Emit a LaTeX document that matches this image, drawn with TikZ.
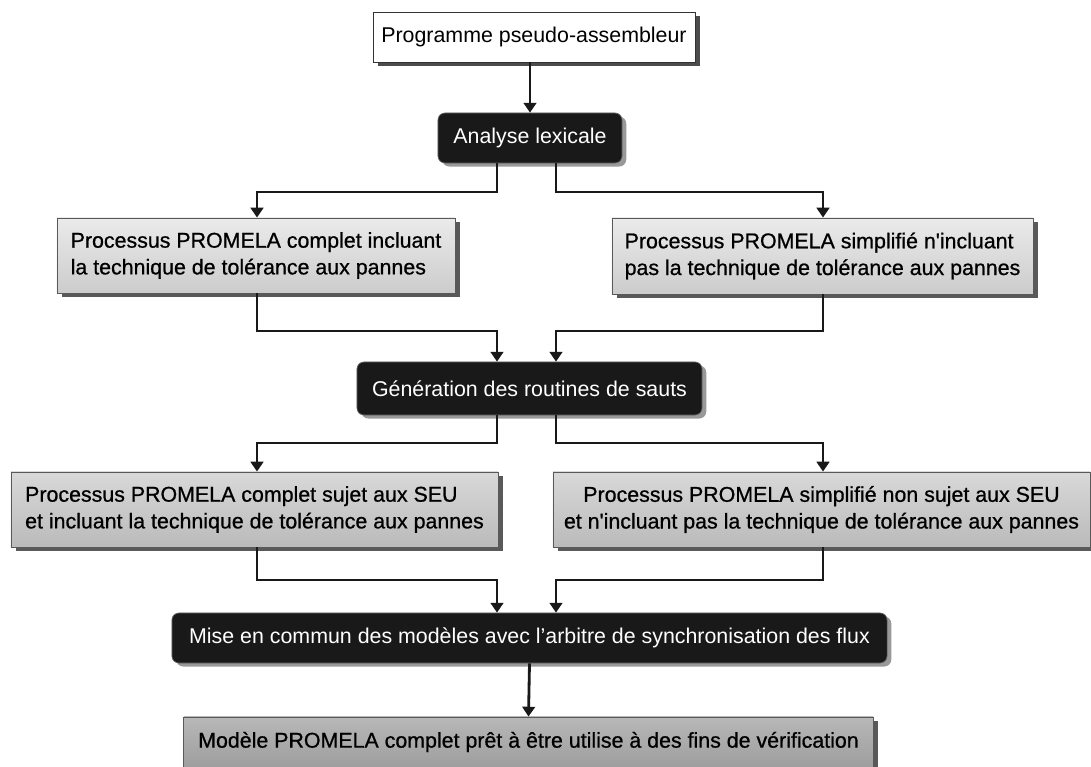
\documentclass[tikz,border=0pt]{standalone}
\usepackage{fontspec}
\setmainfont{Liberation Sans}
\newfontfamily\heavyfont[FakeBold=0.8]{Liberation Sans}
\usetikzlibrary{arrows.meta, positioning, shadows}

\tikzset{
  txt/.style={font=\fontsize{15.2pt}{19pt}\selectfont, inner sep=0pt},
  whitebox/.style={txt, draw=black!80, line width=0.6pt, fill=white,
    drop shadow={shadow xshift=3.5pt, shadow yshift=-2.5pt, fill=black!70, opacity=1}},
  darkbox/.style={txt, text=white, fill=black!90, draw=black!60, line width=0.5pt, rounded corners=5pt,
    drop shadow={shadow xshift=3pt, shadow yshift=-2.5pt, fill=black!40, opacity=1}},
  graybox/.style={txt, font=\fontsize{15.2pt}{19pt}\selectfont\heavyfont, draw=black!65, line width=0.6pt,
    top color=black!8, bottom color=black!20,
    drop shadow={shadow xshift=3.5pt, shadow yshift=-2.5pt, fill=black!65, opacity=1}},
  midbox/.style={graybox, top color=black!15, bottom color=black!27},
  endbox/.style={graybox, top color=black!28, bottom color=black!38},
  link/.style={line width=2pt, black!90},
  arr/.style={link, -{Triangle[width=9pt,length=7pt]}}
}

\begin{document}
\begin{tikzpicture}[x=0.025cm, y=-0.025cm]
  \useasboundingbox (0,0) rectangle (1091,767);
  % columns and knees of the connectors
  \coordinate (colL) at (257,0);
  \coordinate (colR) at (823,0);
  \coordinate (inL) at (497,0);
  \coordinate (inR) at (556,0);
  \coordinate (k1) at (0,192);
  \coordinate (k2) at (0,331);
  \coordinate (k3) at (0,443);
  \coordinate (k4) at (0,580);

  % boxes
  \node[whitebox, minimum width=8.05cm, minimum height=1.25cm] (prog) at (534,37) {Programme pseudo-assembleur};
  \node[darkbox, minimum width=4.6cm, minimum height=1.25cm] (lex) at (530,138) {Analyse lexicale};
  \node[graybox, align=left, minimum width=9.95cm, minimum height=1.875cm] (fullA) at (256,255.5)
    {Processus PROMELA complet incluant\\la technique de tolérance aux pannes};
  \node[graybox, align=left, minimum width=10.525cm, minimum height=1.9cm] (simpA) at (822.5,256)
    {Processus PROMELA simplifié n'incluant\\pas la technique de tolérance aux pannes};
  \node[darkbox, minimum width=8.625cm, minimum height=1.325cm] (jump) at (529.5,388.5) {Génération des routines de sauts};
  \node[midbox, align=left, minimum width=12.175cm, minimum height=1.875cm] (fullB) at (254.5,509.5)
    {Processus PROMELA complet sujet aux SEU\\et incluant la technique de tolérance aux pannes};
  \node[midbox, align=center, minimum width=13.425cm, minimum height=1.875cm] (simpB) at (821.5,509.5)
    {Processus PROMELA simplifié non sujet aux SEU\\et n'incluant pas la technique de tolérance aux pannes};
  \node[darkbox, minimum width=17.875cm, minimum height=1.25cm] (merge) at (529.5,638)
    {Mise en commun des modèles avec l'arbitre de synchronisation des flux};
  \node[endbox, minimum width=17.225cm, minimum height=1.25cm] (final) at (528.5,742)
    {Modèle PROMELA complet prêt à être utilise à des fins de vérification};

  % connectors
  \draw[arr] ([xshift=-0.1cm]prog.south) -- ([xshift=-0.1cm]prog.south |- lex.north);
  \draw[arr] (lex.south -| inL) -- (inL |- k1) -- (colL |- k1) -- (colL |- fullA.north);
  \draw[arr] (lex.south -| inR) -- (inR |- k1) -- (colR |- k1) -- (colR |- simpA.north);
  \draw[arr] (fullA.south -| colL) -- (colL |- k2) -- (inL |- k2) -- (inL |- jump.north);
  \draw[arr] (simpA.south -| colR) -- (colR |- k2) -- (inR |- k2) -- (inR |- jump.north);
  \draw[arr] (jump.south -| inL) -- (inL |- k3) -- (colL |- k3) -- (colL |- fullB.north);
  \draw[arr] (jump.south -| inR) -- (inR |- k3) -- (colR |- k3) -- (colR |- simpB.north);
  \draw[arr] (fullB.south -| colL) -- (colL |- k4) -- (inL |- k4) -- (inL |- merge.north);
  \draw[arr] (simpB.south -| colR) -- (colR |- k4) -- (inR |- k4) -- (inR |- merge.north);
  \draw[arr] (merge.south) -- (final.north);
\end{tikzpicture}
\end{document}
